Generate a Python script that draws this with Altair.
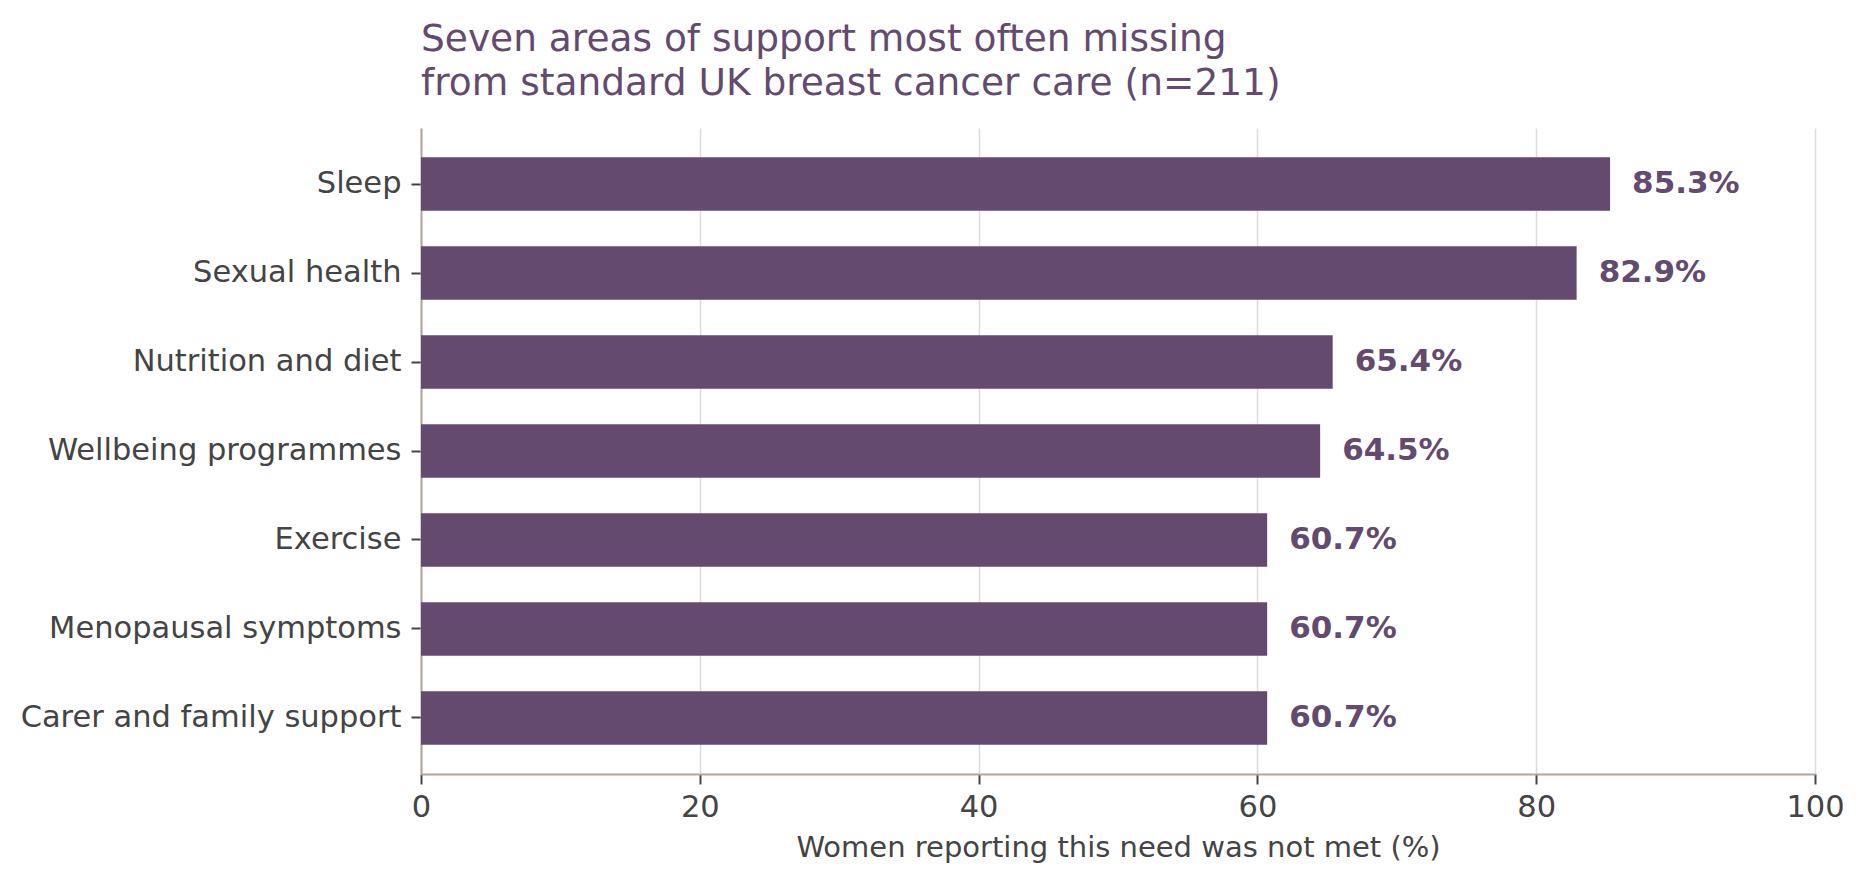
import altair as alt
import pandas as pd

categories = ["Sleep", "Sexual health", "Nutrition and diet", "Wellbeing programmes",
              "Exercise", "Menopausal symptoms", "Carer and family support"]
values = [85.3, 82.9, 65.4, 64.5, 60.7, 60.7, 60.7]
labels = [f"{v:.1f}%" for v in values]
x_ticks = [0, 20, 40, 60, 80, 100]

df = pd.DataFrame({"area": categories, "pct": values, "label": labels})

PURPLE = "#634a6e"
FONT = "DejaVu Sans"

y_enc = alt.Y("area:N", sort=categories, title=None,
              scale=alt.Scale(paddingInner=0.4, paddingOuter=0.33))
x_enc = alt.X("pct:Q", title="Women reporting this need was not met (%)",
              scale=alt.Scale(domain=[0, 100], nice=False),
              axis=alt.Axis(values=x_ticks))

bars = alt.Chart(df).mark_bar(color=PURPLE).encode(x=x_enc, y=y_enc)

text = alt.Chart(df).mark_text(
    align="left", baseline="middle", dx=22, font=FONT, fontSize=31,
    fontWeight="bold", color=PURPLE
).encode(x="pct:Q", y=alt.Y("area:N", sort=categories), text="label:N")

chart = (bars + text).properties(
    width=1394, height=646,
    padding={"left": 12, "top": 12, "right": 5, "bottom": 5},
    title=alt.TitleParams(
        ["Seven areas of support most often missing",
         "from standard UK breast cancer care (n=211)"],
        anchor="start", frame="group", font=FONT, fontSize=37.5,
        fontWeight="normal", color=PURPLE, lineHeight=44, offset=26
    )
).configure_view(stroke=None).configure_axis(
    labelFont=FONT, titleFont=FONT, labelColor="#444444", titleColor="#444444",
    domainColor="#b3a399", domainWidth=2, tickColor="#444444", tickWidth=2,
    tickSize=10, labelFontSize=30.5, titleFontWeight="normal", labelLimit=1000
).configure_axisX(
    grid=True, gridColor="#dcdae5", gridWidth=1.5, labelPadding=8,
    titleFontSize=29, titlePadding=11, labelFlush=False
).configure_axisY(
    grid=False, labelPadding=10, labelFontSize=30.5
)

chart.save("out.html", embed_options={"renderer": "svg", "actions": False})
